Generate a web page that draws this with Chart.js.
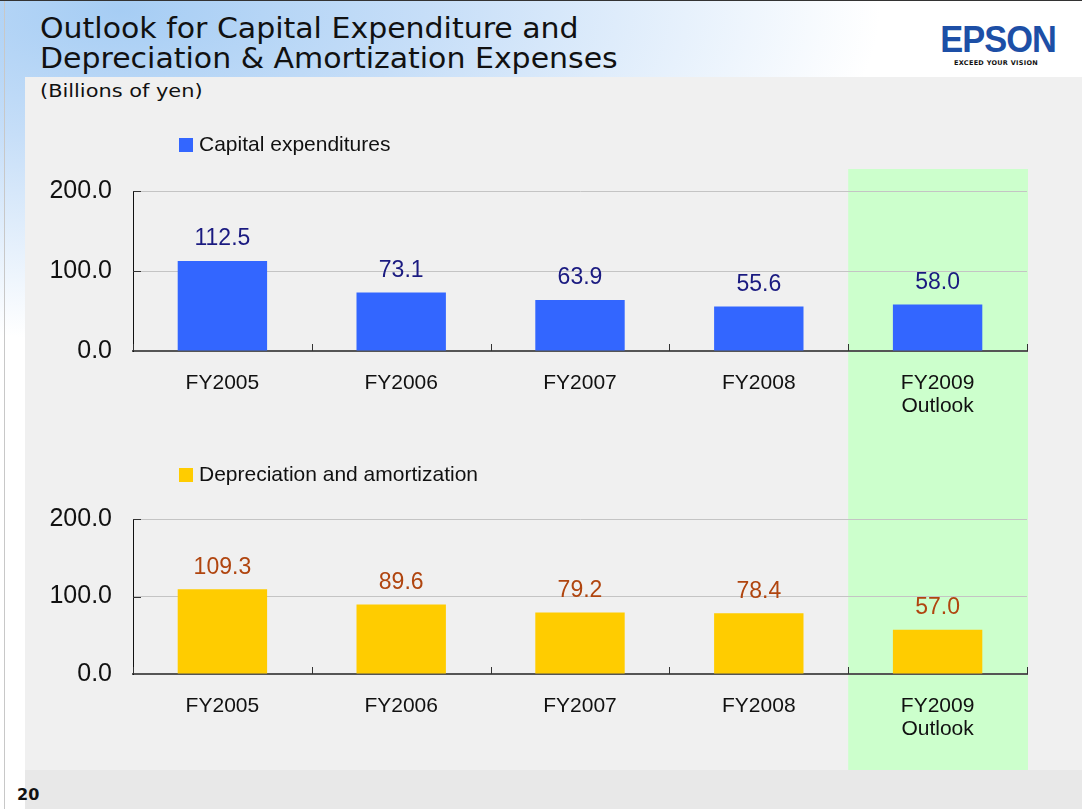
<!DOCTYPE html>
<html>
<head>
<meta charset="utf-8">
<script src="https://cdn.jsdelivr.net/npm/chart.js@4.4.1/dist/chart.umd.min.js"></script>
<style>
    body { margin: 0; background: #fff; }
    #page { position: relative; width: 1082px; height: 809px; overflow: hidden; background: #fff; }
    .glow { position: absolute; left: 0; top: 0; width: 1082px; height: 809px;
        background: radial-gradient(ellipse 760px 330px at 120px 10px, #a6cdf4 0%, #c6def8 40%, rgba(255,255,255,0) 100%); }
    .panel { position: absolute; left: 25px; top: 77px; width: 1057px; height: 693px; background: #f0f0f0; }
    .footer { position: absolute; left: 25px; top: 770px; width: 1057px; height: 39px; background: #e8e8e8; }
    .leftline { position: absolute; left: 4px; top: 0; width: 1px; height: 809px; background: #c8c8c8; }
    .topline { position: absolute; left: 0; top: 0; width: 1082px; height: 1px; background: #333; }
    .title { position: absolute; left: 40px; top: 14px; font-family: "DejaVu Sans", sans-serif; font-size: 28px;
        line-height: 30px; color: #111; transform: scaleX(1.07); transform-origin: left top; white-space: nowrap; }
    .unit { position: absolute; left: 40px; top: 80px; font-family: "DejaVu Sans", sans-serif; font-size: 18px; color: #111;
        transform: scaleX(1.16); transform-origin: left top; white-space: nowrap; }
    .logo { position: absolute; left: 936px; top: 21px; width: 120px; text-align: center; }
    .logo .name { font-family: "Liberation Sans", Arial, sans-serif; font-weight: 900; font-size: 37px; color: #1d4fa6;
        letter-spacing: -1px; line-height: 38px; transform: scaleX(0.93); }
    .logo .tag { font-family: "DejaVu Sans", sans-serif; font-weight: bold; font-size: 6.5px; color: #111; letter-spacing: 0.3px; }
    .pageno { position: absolute; left: 17px; top: 785px; font-family: "DejaVu Sans", sans-serif; font-weight: bold; font-size: 16px; color: #111; }
    canvas { position: absolute; left: 0; }
</style>
</head>
<body>
<div id="page">
    <div class="glow"></div>
    <div class="panel"></div>
    <div class="footer"></div>
    <div class="leftline"></div>
    <div class="topline"></div>
    <div class="title">Outlook for Capital Expenditure and<br>Depreciation &amp; Amortization Expenses</div>
    <div class="unit">(Billions of yen)</div>
    <div class="logo"><div class="name">EPSON</div><div class="tag">EXCEED YOUR VISION</div></div>
    <canvas id="capexChart" width="1082" height="320" style="top:120px"></canvas>
    <canvas id="depreciationChart" width="1082" height="330" style="top:440px"></canvas>
    <div class="pageno">20</div>
</div>
<script>
// Chart data
const categories = ['FY2005', 'FY2006', 'FY2007', 'FY2008', ['FY2009', 'Outlook']];
const capexValues = [112.5, 73.1, 63.9, 55.6, 58.0];
const depreciationValues = [109.3, 89.6, 79.2, 78.4, 57.0];
const yTicks = [0, 100, 200];
const highlightIndex = 4; // FY2009 Outlook column

Chart.defaults.font.family = "'Liberation Sans', Arial, sans-serif";
Chart.defaults.color = '#000';

// Green band behind the outlook column
const bandPlugin = {
    id: 'band',
    beforeDraw(chart, args, opts) {
        const { ctx, chartArea } = chart;
        const catW = chartArea.width / categories.length;
        const left = chartArea.left + highlightIndex * catW;
        ctx.save();
        ctx.fillStyle = '#ccffcc';
        ctx.fillRect(left, opts.top, catW + 1, chart.height - opts.top);
        ctx.restore();
    }
};

// Small tick marks on the category axis, pointing inward
const innerTicksPlugin = {
    id: 'innerTicks',
    afterDraw(chart) {
        const { ctx, chartArea } = chart;
        const catW = chartArea.width / categories.length;
        ctx.save();
        ctx.strokeStyle = '#333';
        ctx.lineWidth = 1;
        for (let i = 0; i <= categories.length; i++) {
            const x = Math.round(chartArea.left + i * catW) + 0.5;
            ctx.beginPath();
            ctx.moveTo(x, chartArea.bottom);
            ctx.lineTo(x, chartArea.bottom - 7);
            ctx.stroke();
        }
        // short inward ticks on the value axis
        const y = chart.scales.y;
        yTicks.slice(1).forEach(v => {
            const py = Math.round(y.getPixelForValue(v)) + 0.5;
            ctx.beginPath();
            ctx.moveTo(chartArea.left, py);
            ctx.lineTo(chartArea.left + 8, py);
            ctx.stroke();
        });
        ctx.restore();
    }
};

// Value labels above the bars
const valueLabelPlugin = {
    id: 'valueLabels',
    afterDatasetsDraw(chart, args, opts) {
        const { ctx } = chart;
        const meta = chart.getDatasetMeta(0);
        const data = chart.data.datasets[0].data;
        ctx.save();
        ctx.font = "23px 'Liberation Sans', Arial, sans-serif";
        ctx.fillStyle = opts.color;
        ctx.textAlign = 'center';
        ctx.textBaseline = 'middle';
        meta.data.forEach((bar, i) => {
            ctx.fillText(data[i].toFixed(1), bar.x, bar.y - 22);
        });
        ctx.restore();
    }
};

// Simple legend: coloured square plus the series name
const boxLegendPlugin = {
    id: 'boxLegend',
    afterDraw(chart, args, opts) {
        const { ctx } = chart;
        const ds = chart.data.datasets[0];
        ctx.save();
        ctx.fillStyle = ds.backgroundColor;
        ctx.fillRect(opts.x, opts.y - 7, 14, 14);
        ctx.font = "21px 'Liberation Sans', Arial, sans-serif";
        ctx.fillStyle = '#111';
        ctx.textAlign = 'left';
        ctx.textBaseline = 'middle';
        ctx.fillText(ds.label, opts.x + 20, opts.y);
        ctx.restore();
    }
};

const makeChart = (canvasId, label, values, barColor, labelColor, layout) => {
    const ctx = document.getElementById(canvasId).getContext('2d');
    return new Chart(ctx, {
        type: 'bar',
        data: {
            labels: categories,
            datasets: [{
                label: label,
                data: values,
                backgroundColor: barColor,
                barPercentage: 0.5,
                categoryPercentage: 1.0
            }]
        },
        options: {
            responsive: false,
            animation: false,
            layout: {
                padding: { left: 0, right: 55, top: layout.top, bottom: 0 }
            },
            scales: {
                x: {
                    grid: { display: false },
                    border: { display: true, color: '#555', width: 2 },
                    ticks: {
                        autoSkip: false,
                        maxRotation: 0,
                        padding: 12,
                        font: { size: 21, lineHeight: 1.12 },
                        color: '#111'
                    },
                    afterFit: (scale) => { scale.height = layout.xHeight; }
                },
                y: {
                    min: 0,
                    max: 200,
                    afterBuildTicks: (scale) => { scale.ticks = yTicks.map(v => ({ value: v })); },
                    grid: { color: '#c4c4c4', lineWidth: 1, drawTicks: false },
                    border: { display: true, color: '#111', width: 1 },
                    ticks: {
                        padding: 21,
                        font: { size: 25 },
                        color: '#111',
                        callback: (v) => Number(v).toFixed(1)
                    },
                    afterFit: (scale) => { scale.width = 133; }
                }
            },
            plugins: {
                legend: { display: false },
                tooltip: { enabled: false },
                band: { top: layout.bandTop },
                valueLabels: { color: labelColor },
                boxLegend: { x: 179, y: layout.legendY }
            }
        },
        plugins: [bandPlugin, innerTicksPlugin, valueLabelPlugin, boxLegendPlugin]
    });
};

makeChart('capexChart', 'Capital expenditures', capexValues, '#3366ff', '#1a1a80',
    { top: 71, xHeight: 89, bandTop: 49, legendY: 25 });
makeChart('depreciationChart', 'Depreciation and amortization', depreciationValues, '#ffcc00', '#b0450f',
    { top: 79, xHeight: 96, bandTop: 0, legendY: 35 });
</script>
</body>
</html>
